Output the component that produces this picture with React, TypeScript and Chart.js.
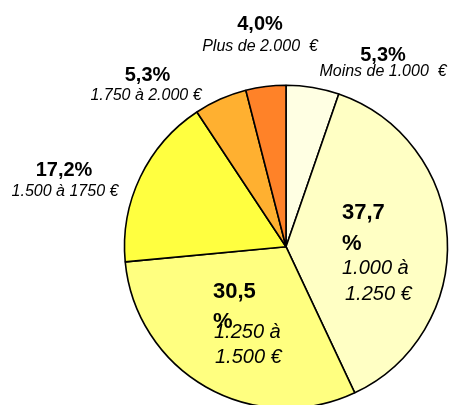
import React, { useEffect, useRef } from "react";
import { Chart, registerables } from "chart.js";

Chart.register(...registerables);

const categories = [
  "Moins de 1.000  €",
  "1.000 à 1.250 €",
  "1.250 à 1.500 €",
  "1.500 à 1750 €",
  "1.750 à 2.000 €",
  "Plus de 2.000  €",
];
const shares = [5.3, 37.7, 30.5, 17.2, 5.3, 4.0];
const sliceColors = ["#FFFFE3", "#FFFFC4", "#FFFF80", "#FFFF40", "#FFB030", "#FF8228"];

const FONT = "'Liberation Sans', Arial, sans-serif";
const R0 = 161.5;
const CX0 = 286;
const CY0 = 246.7;

type Line = { text: string; font: string; align: CanvasTextAlign; x: number; y: number };

// label placement (absolute reference pixels, converted to offsets from pie centre)
function buildLines(): Line[][] {
  const pct = shares.map((v) => v.toFixed(1).replace(".", ","));
  const split = (s: string) => {
    const i = s.indexOf(" à ");
    return [s.slice(0, i + 2), s.slice(i + 3)];
  };
  const bS = `bold 20px ${FONT}`;
  const iS = `italic 16px ${FONT}`;
  const bL = `bold 22px ${FONT}`;
  const iL = `italic 20px ${FONT}`;
  const c1 = split(categories[1]);
  const c2 = split(categories[2]);
  return [
    [
      { text: pct[0] + "%", font: bS, align: "center", x: 383, y: 61 },
      { text: categories[0], font: iS, align: "center", x: 383, y: 76 },
    ],
    [
      { text: pct[1], font: bL, align: "left", x: 342, y: 219 },
      { text: "%", font: bL, align: "left", x: 342, y: 250 },
      { text: c1[0], font: iL, align: "left", x: 342, y: 274 },
      { text: c1[1], font: iL, align: "left", x: 345, y: 300 },
    ],
    [
      { text: pct[2], font: bL, align: "left", x: 213, y: 298 },
      { text: "%", font: bL, align: "left", x: 213, y: 328 },
      { text: c2[0], font: iL, align: "left", x: 214, y: 338 },
      { text: c2[1], font: iL, align: "left", x: 215, y: 363 },
    ],
    [
      { text: pct[3] + "%", font: bS, align: "center", x: 64, y: 175.5 },
      { text: categories[3], font: iS, align: "center", x: 65, y: 195.5 },
    ],
    [
      { text: pct[4] + "%", font: bS, align: "center", x: 147.5, y: 80.5 },
      { text: categories[4], font: iS, align: "center", x: 146, y: 100 },
    ],
    [
      { text: pct[5] + "%", font: bS, align: "center", x: 260, y: 30 },
      { text: categories[5], font: iS, align: "center", x: 260, y: 51 },
    ],
  ];
}

const labelPlugin = {
  id: "sliceLabels",
  afterDatasetsDraw(chart: any) {
    const meta = chart.getDatasetMeta(0);
    const groups = buildLines();
    const ctx: CanvasRenderingContext2D = chart.ctx;
    ctx.save();
    ctx.fillStyle = "#000";
    ctx.textBaseline = "alphabetic";
    meta.data.forEach((arc: any, i: number) => {
      const { x, y, outerRadius } = arc.getProps(["x", "y", "outerRadius"], true);
      const k = outerRadius / R0;
      (groups[i] || []).forEach((ln) => {
        ctx.font = ln.font;
        ctx.textAlign = ln.align;
        ctx.fillText(ln.text, x + (ln.x - CX0) * k, y + (ln.y - CY0) * k);
      });
    });
    ctx.restore();
  },
};

export default function App() {
  const ref = useRef<HTMLCanvasElement | null>(null);
  useEffect(() => {
    if (!ref.current) return;
    const chart = new Chart(ref.current, {
      type: "pie",
      data: {
        labels: categories,
        datasets: [
          {
            data: shares,
            backgroundColor: sliceColors,
            borderColor: "#000",
            borderWidth: 1.6,
            hoverOffset: 0,
          },
        ],
      },
      options: {
        responsive: false,
        animation: false,
        radius: R0,
        layout: { padding: { left: 121, right: 0, top: 83.4, bottom: 10 } },
        plugins: {
          legend: { display: false },
          tooltip: { enabled: false },
        },
      } as any,
      plugins: [labelPlugin],
    });
    return () => chart.destroy();
  }, []);
  return (
    <div
      style={{
        position: "fixed",
        left: 0,
        top: 0,
        width: 451,
        height: 405,
        overflow: "hidden",
        background: "#fff",
      }}
    >
      <canvas ref={ref} width={451} height={420} />
    </div>
  );
}
